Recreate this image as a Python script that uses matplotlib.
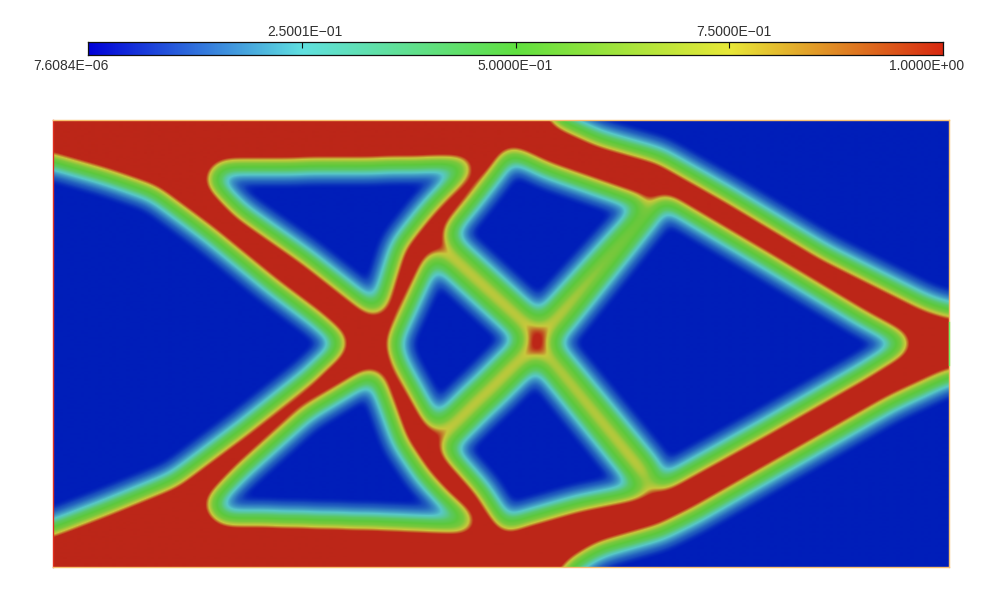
import numpy as np
import matplotlib
matplotlib.use("Agg")
import matplotlib.pyplot as plt
from matplotlib.colors import LinearSegmentedColormap
from matplotlib.path import Path as MplPath

FIG_W, FIG_H = 986, 594

# Solid/void design: void outlines, in image pixels.
# The filter below rounds them, so the tips sit further out than the drawn contour.
HOLE_LEFT = [(-60, 135), (55, 162), (107, 177), (153, 193), (207, 233), (273, 287), (317, 320),
             (343, 343), (307, 377), (240, 430), (173, 480), (107, 507), (55, 527), (-60, 560)]
HOLE_UPPER_TRI = [(210, 178), (222, 167), (380, 165), (471, 163), (441, 193), (424, 212), (398, 245),
                  (384, 290), (377, 312), (307, 257), (240, 210)]
HOLE_LOWER_TRI = [(374, 373), (387, 407), (400, 443), (423, 477), (444, 500), (474, 526),
                  (380, 522), (240, 518), (222, 518), (210, 505), (240, 473), (307, 413)]
HOLE_UPPER_QUAD = [(509, 152), (547, 170), (613, 193), (645, 204), (544, 315), (539, 328),
                   (538, 319), (455, 243), (448, 233), (475, 200), (502, 165)]
HOLE_MID_DIAMOND = [(435, 253), (439, 261), (522, 337), (523, 342), (515, 348), (435, 426), (437, 430),
                    (400, 363), (393, 343), (416, 293), (430, 263)]
HOLE_LOWER_QUAD = [(536, 357), (541, 365), (638, 485), (655, 488), (580, 503), (513, 522), (507, 528),
                   (483, 490), (450, 453), (442, 444), (451, 444), (531, 366)]
HOLE_RIGHT = [(662, 198), (672, 205), (760, 257), (860, 317), (908, 343), (860, 373), (760, 430),
              (657, 487), (656, 469), (557, 349), (550, 343), (562, 331), (657, 212)]
HOLE_TOP_RIGHT = [(540, 60), (556, 118), (600, 138), (660, 155), (727, 193), (827, 253), (927, 303),
                  (950, 310), (1050, 322), (1050, 60)]
HOLE_BOTTOM_RIGHT = [(1050, 362), (949, 377), (893, 403), (793, 460), (693, 517), (660, 533), (600, 550),
                     (572, 567), (530, 630), (1050, 630)]
HOLES = [HOLE_LEFT, HOLE_UPPER_TRI, HOLE_LOWER_TRI, HOLE_UPPER_QUAD, HOLE_MID_DIAMOND,
         HOLE_LOWER_QUAD, HOLE_RIGHT, HOLE_TOP_RIGHT, HOLE_BOTTOM_RIGHT]

# The four thin members around the small node hold an intermediate density
RIDGE_STARTS = [(447, 252), (647, 207), (443, 435), (647, 477)]
RIDGE_ENDS = [(530, 328), (553, 323), (523, 357), (550, 357)]
RIDGE_DENSITY = 0.92

# Filtered design value against plotted density
FILTERED = [0.0, 0.005, 0.03, 0.08, 0.187, 0.35, 0.5, 0.65, 0.78, 0.87, 1.0]
DENSITY = [0.0, 0.0, 0.07, 0.14, 0.25, 0.43, 0.5, 0.57, 0.75, 1.0, 1.0]
FILTER_SIGMA = 9

TICK_VALUES = [0.0, 0.25, 0.5, 0.75, 1.0]
TICK_LABELS = ["7.6084E\u221206", "2.5001E\u221201", "5.0000E\u221201", "7.5000E\u221201", "1.0000E+00"]

BAR_COLORS = ["#0000D8", "#60E0E0", "#60E040", "#E8E838", "#D82810"]
FIELD_COLORS = ["#001EB9", "#58C8C8", "#5CC83C", "#C8C83C", "#BC2618"]


def blur(img, sigma):
    r = int(3 * sigma)
    k = np.exp(-0.5 * (np.arange(-r, r + 1) / sigma) ** 2)
    k /= k.sum()
    out = np.apply_along_axis(lambda v: np.convolve(v, k, mode="same"), 0, img)
    out = np.apply_along_axis(lambda v: np.convolve(v, k, mode="same"), 1, out)
    return out


def segment_distance(a, b, xx, yy):
    a = np.array(a, dtype=float)
    ab = np.array(b, dtype=float) - a
    t = np.clip(((xx - a[0]) * ab[0] + (yy - a[1]) * ab[1]) / (ab @ ab), 0, 1)
    return np.hypot(xx - a[0] - t * ab[0], yy - a[1] - t * ab[1])


def add_px_axes(fig, left, top, right, bottom):
    return fig.add_axes([left / FIG_W, 1 - bottom / FIG_H, (right - left) / FIG_W, (bottom - top) / FIG_H])


plt.rcParams["font.family"] = ["Liberation Sans", "DejaVu Sans"]

fig = plt.figure(figsize=(FIG_W / 100, FIG_H / 100), dpi=100)
fig.patch.set_facecolor("white")

# density field, worked out on a margin wider than the plot so the filter has no edge effect
X0, X1, Y0, Y1 = 53, 949, 120, 567
MARGIN = 40
xs = np.arange(X0 - MARGIN, X1 + MARGIN + 1, 1.0)
ys = np.arange(Y0 - MARGIN, Y1 + MARGIN + 1, 1.0)
xx, yy = np.meshgrid(xs, ys)
grid = np.column_stack([xx.ravel(), yy.ravel()])

design = np.ones(xx.shape)
for start, end in zip(RIDGE_STARTS, RIDGE_ENDS):
    design[segment_distance(start, end, xx, yy) < 14] = RIDGE_DENSITY
for hole in HOLES:
    design[MplPath(hole).contains_points(grid).reshape(xx.shape)] = 0.0
filtered = blur(design, FILTER_SIGMA)[MARGIN:-MARGIN, MARGIN:-MARGIN]
density = np.interp(filtered, FILTERED, DENSITY)

field_cmap = LinearSegmentedColormap.from_list("field", FIELD_COLORS, N=512)
ax = add_px_axes(fig, X0, Y0, X1, Y1)
ax.imshow(density, cmap=field_cmap, vmin=0, vmax=1, extent=(X0, X1, Y1, Y0), aspect="auto", interpolation="bilinear")
ax.set_xticks([])
ax.set_yticks([])
for name, spine in ax.spines.items():
    spine.set_linewidth(1.0)
    spine.set_color("#E03020" if name == "left" else "#F8C070")
ax.plot([X1, X1], [322, 365], color="#70F060", linewidth=1.0, clip_on=False, zorder=5)
ax.set_xlim(X0, X1)
ax.set_ylim(Y1, Y0)

# colour bar
bar_cmap = LinearSegmentedColormap.from_list("bar", BAR_COLORS, N=512)
cax = add_px_axes(fig, 88, 42, 943, 55)
cax.imshow(np.linspace(0, 1, 512)[None, :], cmap=bar_cmap, vmin=0, vmax=1, extent=(0, 1, 0, 1), aspect="auto")
cax.set_yticks([])
cax.set_xticks(TICK_VALUES[1:-1])
cax.set_xticklabels([])
cax.tick_params(axis="x", direction="in", top=True, bottom=False, length=4, width=0.8, color="#101010")
for spine in cax.spines.values():
    spine.set_linewidth(0.9)
    spine.set_color("#101010")

label_shift = [-12.2, 2.0, 0.0, 3.0, -11.5]
for i, (val, label) in enumerate(zip(TICK_VALUES, TICK_LABELS)):
    below = i % 2 == 0
    cax.annotate(label, (val, 0 if below else 1), xytext=(label_shift[i], -2.8 if below else 2.0),
                 xycoords="axes fraction", textcoords="offset points", ha="center",
                 va="top" if below else "bottom", fontsize=10, color="#303030")

fig.savefig("out.png", dpi=100)
plt.close(fig)
